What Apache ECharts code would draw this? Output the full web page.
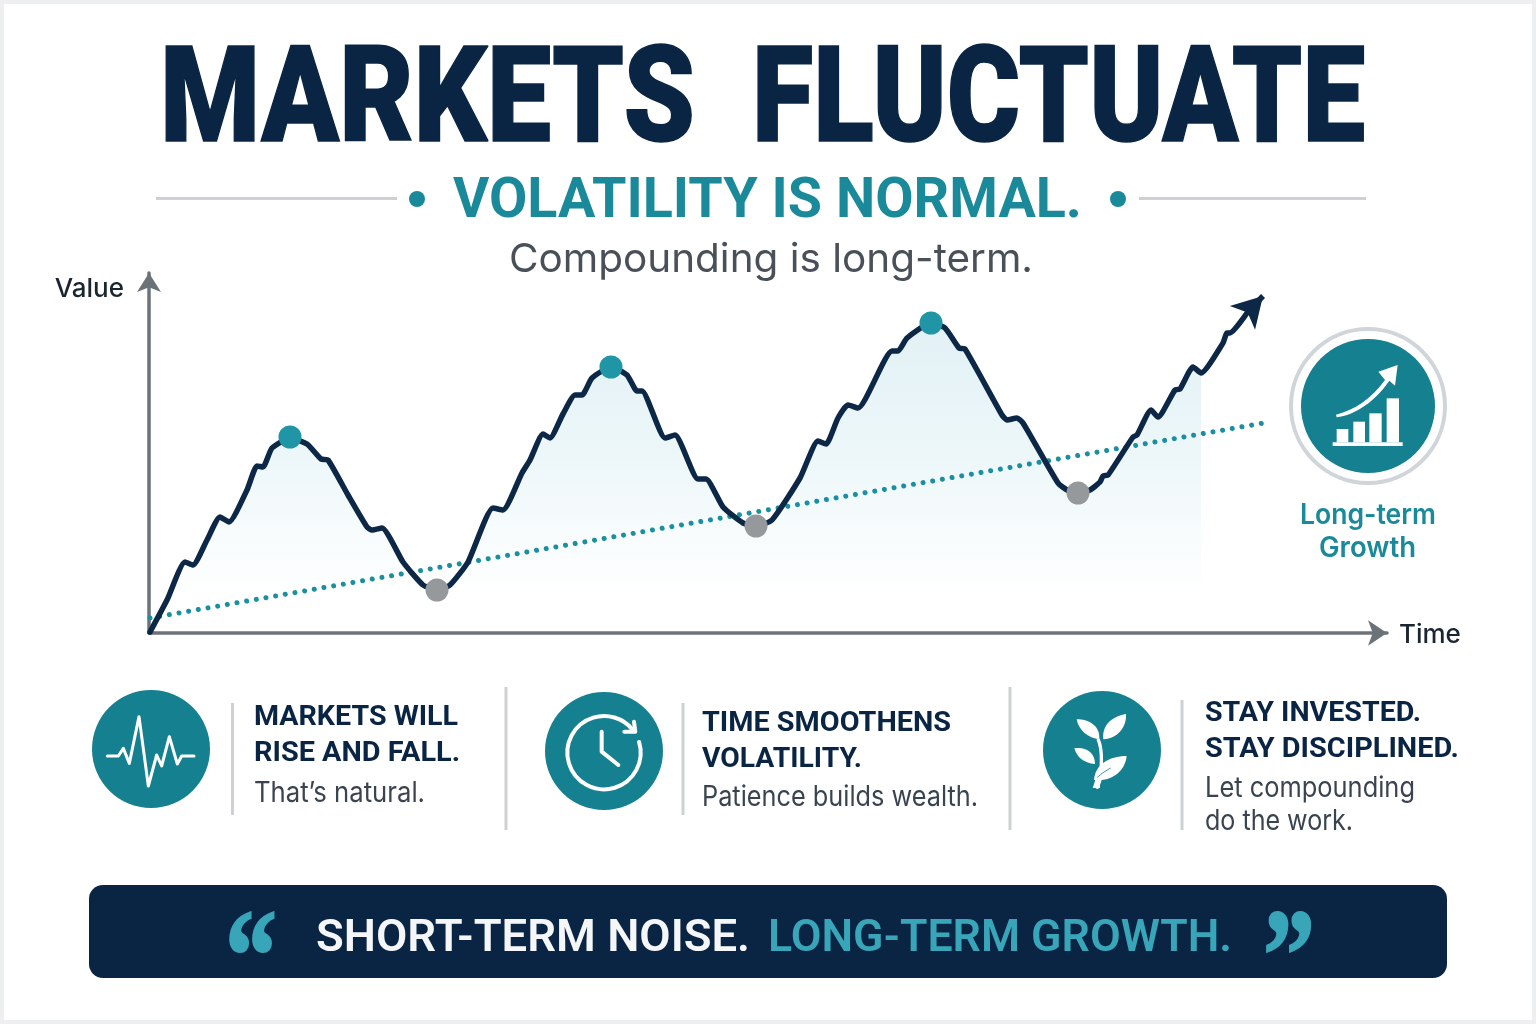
<!DOCTYPE html>
<html>
<head>
<meta charset="utf-8">
<title>Markets Fluctuate</title>
<style>html,body{margin:0;padding:0;background:#eceeef}#c{width:1536px;height:1024px}</style>
<script src="https://cdn.jsdelivr.net/npm/echarts@6/dist/echarts.min.js"></script>
</head>
<body>
<div id="c"></div>
<script>
// --- data (time and value in chart units) ---
const timeValues = [0.1,1.8,3.6,4.4,5.8,7.1,8.0,9.8,10.8,11.4,12.3,14.1,15.8,17.2,17.9,19.9,21.8,22.3,23.3,25.4,27.4,28.8,30.1,31.9,34.4,35.4,37.3,38.1,39.4,40.1,41.4,42.6,43.3,44.3,46.2,47.8,48.8,49.3,51.6,52.6,54.9,55.7,57.4,59.4,60.7,62.3,65.1,66.9,67.7,68.9,69.9,70.9,74.3,74.9,75.8,78.2,79.6,81.0,81.6,85.3,85.8,86.8,87.4,90.9,91.8,92.9,94.1,95.1,95.4,95.9,98.4,98.8,100.2,100.9,102.6,103.1,104.4,105.2,107.4,107.8,108.1,109.8];
const marketValues = [0.1,3.3,7.1,6.8,9.3,11.6,11.1,14.3,16.7,16.6,18.5,19.5,18.9,17.4,17.3,13.8,10.6,10.3,10.5,7.1,4.8,4.3,4.8,7.1,12.5,12.3,16.0,17.3,19.9,19.5,21.9,23.8,23.8,25.5,26.6,25.8,24.2,24.2,19.5,19.8,15.4,15.4,12.6,11.0,10.7,11.3,15.5,19.2,18.9,21.5,22.8,22.5,28.2,28.2,29.5,31.0,30.5,28.5,28.4,21.8,21.3,21.5,21.0,15.0,14.3,14.0,14.3,15.1,15.7,15.8,19.6,19.8,22.3,21.6,24.3,24.4,26.6,26.0,29.0,30.0,30.0,32.0];
const areaEndTime = 105.3;
const arrowStart = [109.8, 32.0];
const arrowEnd = [111.4, 33.7];
const trendTime = [0.1, 111.7];
const trendValue = [1.5, 21.04];
const peakTime = [14.1, 46.2, 78.2];
const peakValue = [19.6, 26.6, 31.0];
const troughTime = [28.8, 60.7, 92.9];
const troughValue = [4.3, 10.7, 14.0];
const axisNames = ['Time', 'Value'];

const NAVY = '#0a2444', TEAL = '#15808f', TEXTTEAL = '#1a8a9b', LIGHT = '#38a5b8', RULE = '#cdd1d4', BODY = '#3a4450';

const zip = (a, b) => a.map((v, i) => [v, b[i]]);
const lineData = zip(timeValues, marketValues);
const areaData = lineData.filter(p => p[0] <= areaEndTime);

const mctx = document.createElement('canvas').getContext('2d');
// text helper: fits the real text to a measured width, sits it on a baseline
function T(text, x, baseline, width, size, weight, color, family, strokeWidth) {
  const font = weight + ' ' + size + 'px ' + family;
  mctx.font = font; mctx.textBaseline = 'middle';
  const m = mctx.measureText(text);
  const below = mctx.measureText('H').actualBoundingBoxDescent;
  const style = { text: text, font: font, fill: color, align: 'left', verticalAlign: 'middle' };
  if (strokeWidth) { style.stroke = color; style.lineWidth = strokeWidth; }
  return { type: 'text', x: x, y: baseline - below, scaleX: width / m.width, style };
}
const R = (x, y, w, h, fill, r) => ({ type: 'rect', shape: { x, y, width: w, height: h, r: r || 0 }, style: { fill } });
const C = (cx, cy, r, fill) => ({ type: 'circle', shape: { cx, cy, r }, style: { fill } });
const L = (x1, y1, x2, y2, w, stroke) => ({ type: 'line', shape: { x1, y1, x2, y2 }, style: { stroke, lineWidth: w } });
const whiteStroke = (w) => ({ stroke: '#fff', lineWidth: w, fill: null, lineCap: 'round', lineJoin: 'round' });
let pathCount = 0;
const P = (d, style) => {
  const name = 'iconPath' + (++pathCount);
  echarts.graphic.registerShape(name, echarts.graphic.extendPath(d, {}));
  return { type: name, style };
};
const G = (x, y, children) => ({ type: 'group', x, y, scaleX: 1 / 3, scaleY: 1 / 3, children });

const HEAD = 'Roboto, sans-serif', SANS = 'Inter, sans-serif', SERIF = '"Liberation Serif", serif';

const graphics = [
  R(4, 4, 1528, 1016, '#ffffff'),
  T('MARKETS', 160, 141, 535, 134, 900, NAVY, HEAD, 1.5),
  T('FLUCTUATE', 752, 141, 613, 134, 900, NAVY, HEAD, 1.5),
  L(156, 198.5, 397, 198.5, 3, RULE), L(1139, 198.5, 1366, 198.5, 3, RULE),
  C(417, 199, 8, TEXTTEAL), C(1118, 199, 8, TEXTTEAL),
  T('VOLATILITY IS NORMAL.', 453, 217, 629, 56, 700, TEXTTEAL, HEAD),
  T('Compounding is long-term.', 509, 272, 524, 40, 400, '#4a5058', SANS),

  // long-term growth badge
  { type: 'circle', shape: { cx: 1368, cy: 406, r: 77 }, style: { fill: '#fff', stroke: '#cfd5d8', lineWidth: 4 } },
  C(1368, 406, 67, TEAL),
  G(1280, 320, [
    R(170, 327, 35, 40, '#fff'), R(220, 305, 35, 62, '#fff'), R(268, 280, 37, 87, '#fff'), R(320, 235, 37, 132, '#fff'),
    R(158, 367, 210, 11, '#fff'),
    P('M168,284 C225,270 275,235 315,180 L295,155 L353,135 L345,197 L328,182 C285,245 225,285 170,292 Z', { fill: '#fff' })
  ]),
  T('Long-term', 1300, 524, 136, 28, 600, TEXTTEAL, SANS),
  T('Growth', 1319, 557, 97, 28, 600, TEXTTEAL, SANS),

  // column 1
  C(151, 749, 59, TEAL),
  G(80, 680, [{ type: 'polyline', shape: { points: [[82,228],[115,228],[130,205],[148,250],[177,110],[205,318],[230,225],[245,258],[268,170],[292,252],[305,228],[342,228]] }, style: whiteStroke(9) }]),
  L(232.5, 703, 232.5, 815, 3, RULE),
  T('MARKETS WILL', 254, 725, 204, 28, 700, NAVY, HEAD),
  T('RISE AND FALL.', 254, 761, 206, 28, 700, NAVY, HEAD),
  T('That\u2019s natural.', 254, 802, 171, 28, 400, BODY, SANS),
  L(506, 687, 506, 830, 3, RULE),

  // column 2
  C(604, 751, 59, TEAL),
  G(530, 680, [
    { type: 'arc', shape: { cx: 222, cy: 218, r: 110, startAngle: -17 * Math.PI / 180, endAngle: 320 * Math.PI / 180, clockwise: true }, style: whiteStroke(12) },
    { type: 'polyline', shape: { points: [[283,155],[316,155],[312,125]] }, style: whiteStroke(12) },
    { type: 'polyline', shape: { points: [[215,155],[215,215],[265,255]] }, style: whiteStroke(12) }
  ]),
  L(683, 703, 683, 815, 3, RULE),
  T('TIME SMOOTHENS', 702, 731, 249, 28, 700, NAVY, HEAD),
  T('VOLATILITY.', 702, 767, 160, 28, 700, NAVY, HEAD),
  T('Patience builds wealth.', 702, 806, 276, 28, 400, BODY, SANS),
  L(1010, 687, 1010, 830, 3, RULE),

  // column 3
  C(1102, 750, 59, TEAL),
  G(1020, 680, [
    P('M235,180 C248,210 245,260 240,300 L232,322', whiteStroke(10)),
    P('M238,178 C205,175 175,150 170,118 C205,118 240,135 238,178 Z', { fill: '#fff' }),
    P('M250,178 C245,135 275,110 318,102 C320,140 295,175 250,178 Z', { fill: '#fff' }),
    P('M225,252 C190,250 170,230 163,205 C195,200 225,215 225,252 Z', { fill: '#fff' }),
    P('M222,300 C225,255 265,228 320,228 C315,275 275,305 222,300 Z', { fill: '#fff' }),
    P('M218,324 L240,324 L240,296 L226,300 Z', { fill: '#fff' }),
    P('M232,292 C245,280 258,272 272,264', { stroke: TEAL, lineWidth: 2.5, fill: null })
  ]),
  L(1182, 700, 1182, 830, 3, RULE),
  T('STAY INVESTED.', 1205, 721, 216, 28, 700, NAVY, HEAD),
  T('STAY DISCIPLINED.', 1205, 757, 254, 28, 700, NAVY, HEAD),
  T('Let compounding', 1205, 797, 210, 28, 400, BODY, SANS),
  T('do the work.', 1205, 830, 148, 28, 400, BODY, SANS),

  // banner
  R(89, 885, 1358, 93, NAVY, 14),
  T('\u201C', 225, 1000, 52, 132, 700, LIGHT, SERIF, 2),
  T('SHORT-TERM NOISE.', 316, 951, 434, 44, 600, '#f4f6f8', HEAD),
  T('LONG-TERM GROWTH.', 768, 951, 464, 44, 600, LIGHT, HEAD),
  T('\u201D', 1263, 1000, 52, 132, 700, LIGHT, SERIF, 2)
];

const chart = echarts.init(document.getElementById('c'), null, { width: 1536, height: 1024 });
const axisLine = (size) => ({ show: true, onZero: false, symbol: ['none', 'arrow'], symbolSize: size, lineStyle: { color: '#6c7378', width: 3.5 } });
chart.setOption({
  animation: false,
  backgroundColor: '#eceeef',
  graphic: { elements: graphics },
  grid: { left: 149, top: 273, width: 1238, height: 360 },
  xAxis: {
    type: 'value', min: 0, max: 123.8, name: axisNames[0], nameLocation: 'end', nameGap: 12, z: 2,
    nameTextStyle: { color: '#1a2530', fontSize: 26, fontWeight: 500, fontFamily: SANS, verticalAlign: 'top', padding: [-11, 0, 0, 0] },
    axisLine: axisLine([19, 19]), axisTick: { show: false }, axisLabel: { show: false }, splitLine: { show: false }
  },
  yAxis: {
    type: 'value', min: 0, max: 36, name: axisNames[1], nameLocation: 'end', nameGap: -16, z: 2,
    nameTextStyle: { color: '#1a2530', fontSize: 26, fontWeight: 500, fontFamily: SANS, align: 'right', verticalAlign: 'middle', padding: [0, 25, 0, 0] },
    axisLine: axisLine([18, 19]), axisTick: { show: false }, axisLabel: { show: false }, splitLine: { show: false }
  },
  series: [
    { name: 'Area', type: 'line', data: areaData, smooth: 0.18, showSymbol: false, silent: true, z: 1,
      lineStyle: { width: 0, opacity: 0 },
      areaStyle: { color: new echarts.graphic.LinearGradient(0, 0, 0, 1, [
        { offset: 0, color: '#d5ebf1' }, { offset: 0.45, color: '#e6f4f7' }, { offset: 0.75, color: '#f8fcfd' }, { offset: 0.9, color: '#ffffff' }, { offset: 1, color: '#ffffff' }]) } },
    { name: 'Trend', type: 'line', data: zip(trendTime, trendValue), showSymbol: false, z: 3,
      lineStyle: { color: '#1a8fa0', width: 5, type: [0.01, 9.8], cap: 'round' } },
    { name: 'Market', type: 'line', data: lineData, smooth: 0.18, showSymbol: false, z: 4,
      lineStyle: { color: '#0d2747', width: 5.5, cap: 'round', join: 'round' },
      markLine: { silent: true, animation: false, label: { show: false }, symbolSize: [26, 30],
        lineStyle: { color: '#0d2747', width: 5.5, type: 'solid' },
        data: [[{ coord: arrowStart, symbol: 'none' }, { coord: arrowEnd, symbol: 'arrow' }]] } },
    { name: 'Peaks', type: 'scatter', data: zip(peakTime, peakValue), symbolSize: 23, z: 5, itemStyle: { color: '#1f95a6', opacity: 1 } },
    { name: 'Troughs', type: 'scatter', data: zip(troughTime, troughValue), symbolSize: 23, z: 5, itemStyle: { color: '#96999c', opacity: 1 } }
  ]
});
</script>
</body>
</html>
